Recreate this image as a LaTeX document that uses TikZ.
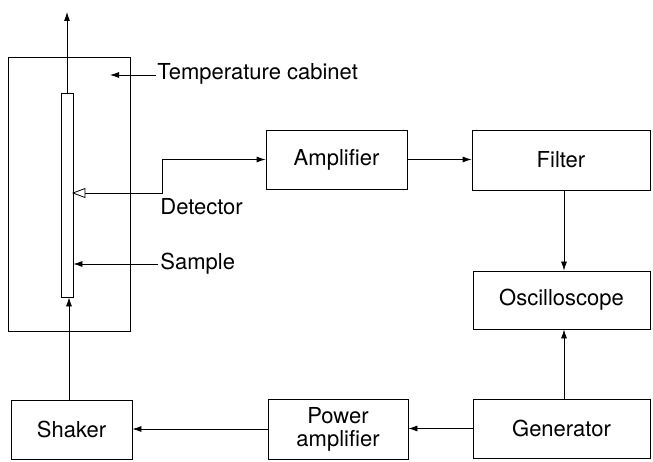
\documentclass[tikz,border=0pt]{standalone}
\usepackage{fontspec}
\setmainfont{TeX Gyre Heros}
\usetikzlibrary{arrows.meta}
\begin{document}
\begin{tikzpicture}[x=1pt,y=-1pt,line width=0.8pt,
  every node/.style={font=\fontsize{22}{23}\selectfont},
  blk/.style={draw,inner sep=0pt,align=center},
  lab/.style={anchor=base west,inner sep=0pt},
  arr/.style={-{Latex[length=9pt,width=6pt]}}]
\useasboundingbox (0,0) rectangle (653,462);
% cabinet and sample rod
\node[blk,minimum width=122pt,minimum height=274pt] (cab) at (69,194) {};
\node[blk,minimum width=12pt,minimum height=204pt] (rod) at (67,195) {};
% blocks
\node[blk,minimum width=141pt,minimum height=59pt] (amp) at (336.5,159.5) {Amplifier};
\node[blk,minimum width=178pt,minimum height=60pt] (filt) at (561,160) {Filter};
\node[blk,minimum width=177pt,minimum height=58pt] (osc) at (561.5,300) {Oscilloscope};
\node[blk,minimum width=121pt,minimum height=59pt] (shk) at (71.5,429.5) {Shaker};
\node[blk,minimum width=140pt,minimum height=60pt] (pamp) at (338,429) {Power\\amplifier};
\node[blk,minimum width=177pt,minimum height=59pt] (gen) at (561.5,428.5) {Generator};
% labels
\node[lab] (tlab) at (157,80) {Temperature cabinet};
\node[lab] (dlab) at (160,215) {Detector};
\node[lab] (slab) at (160,270) {Sample};
% coordinates
\coordinate (topend) at (67,12);
\coordinate (tpt) at (110,75);
\coordinate (tstart) at (156,75);
\coordinate (dtip) at (73,193);
\coordinate (dbase) at (85,193);
\coordinate (dbend) at (162,193);
\coordinate (sstart) at (158,264);
\coordinate (ox) at (564,0);
\coordinate (shx) at (69,0);
% connectors
\draw[arr] (rod.north) -- (topend);
\draw[arr] (tstart) -- (tpt);
\draw (dtip) -- ++(12,-4.5) -- ++(0,9) -- cycle;
\draw[arr] (dbase) -- (dbend) |- (amp.west);
\draw[arr] (sstart) -- (sstart -| rod.east);
\draw[arr] (shk.north -| shx) -- (rod.south -| shx);
\draw[arr] (amp.east) -- (amp.east -| filt.west);
\draw[arr] (filt.south -| ox) -- (osc.north -| ox);
\draw[arr] (gen.north -| ox) -- (osc.south -| ox);
\draw[arr] (gen.west) -- (gen.west -| pamp.east);
\draw[arr] (pamp.west) -- (pamp.west -| shk.east);
\end{tikzpicture}
\end{document}
